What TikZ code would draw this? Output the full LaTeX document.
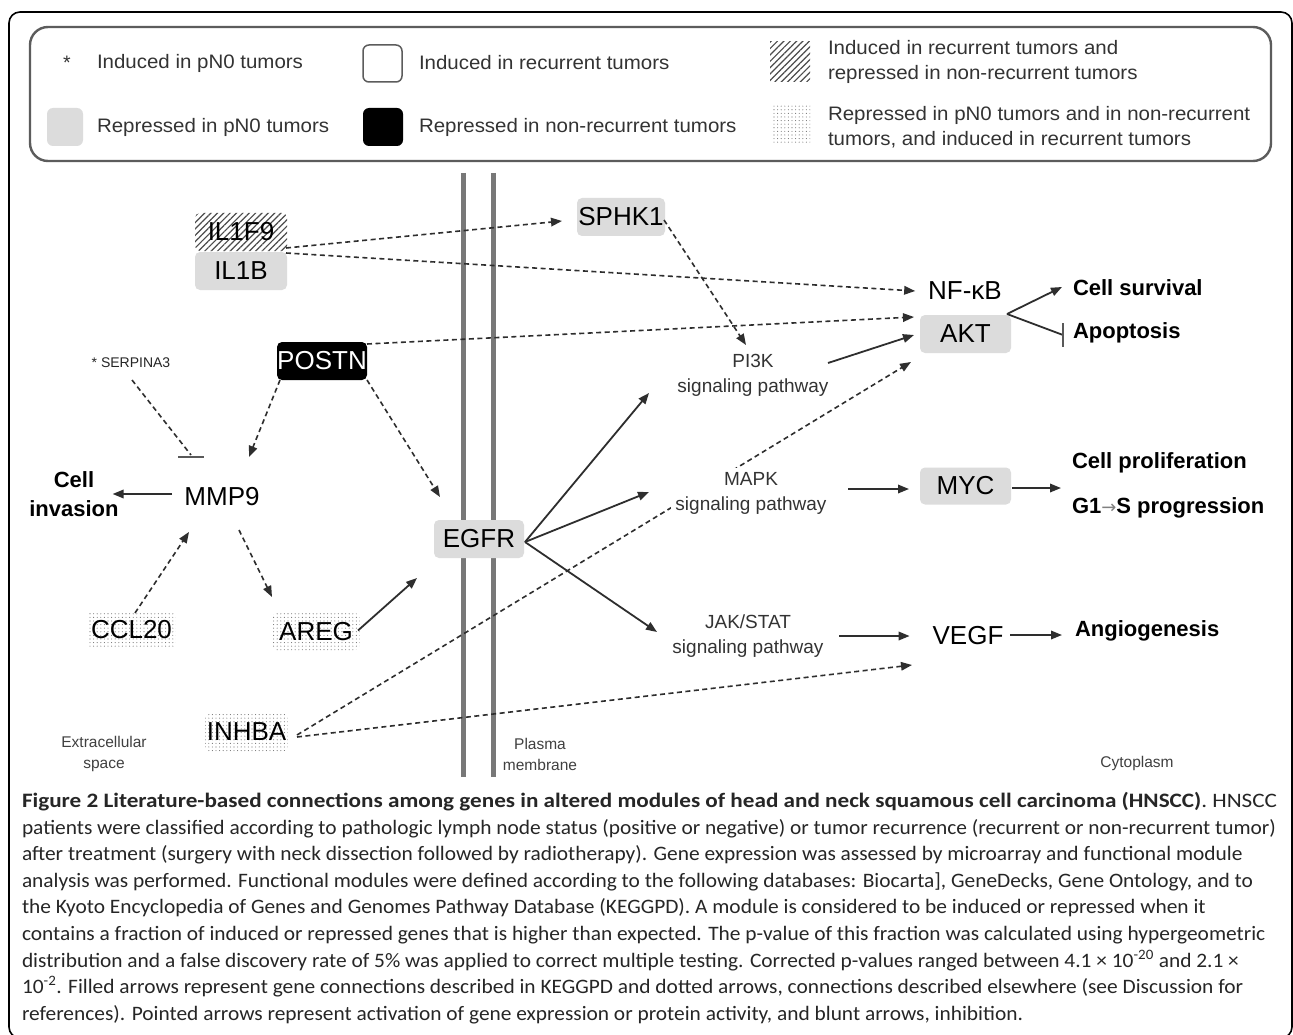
\documentclass[tikz,border=0pt]{standalone}
\usepackage{fontspec}
\setmainfont{Liberation Sans}
\newfontfamily\capfont{Carlito}
\newfontfamily\arrowfont{DejaVu Sans}
\usepackage{graphicx}
\usetikzlibrary{arrows.meta,patterns,patterns.meta,calc}
\definecolor{boxgray}{HTML}{DCDCDC}
\definecolor{linegray}{HTML}{2E2E2E}
\definecolor{memgray}{HTML}{787878}
\definecolor{framegray}{HTML}{5C5C5C}
\definecolor{legtext}{HTML}{333333}
\definecolor{captext}{HTML}{262626}
\newlength\capw
\newlength\legw
\newcommand\capsize{\fontsize{20.5}{26}\selectfont}
\newcommand\legsize{\fontsize{19.5}{25}\selectfont}
\begin{document}
\settowidth\capw{\capfont\capsize patients were classified according to pathologic lymph node status (positive or negative) or tumor recurrence (recurrent or non-recurrent tumor)}
\settowidth\legw{\legsize Induced in pN0 tumors}
\pgfmathsetmacro\capsx{1254/\capw}
\pgfmathsetmacro\legsx{206/\legw}
\newcommand\capline[1]{\scalebox{\capsx}[1]{\capfont\capsize #1}}
\newcommand\legline[1]{\scalebox{\legsx}[1]{\legsize #1}}
\begin{tikzpicture}[x=1pt,y=-1pt,
 every node/.style={inner sep=0pt,outer sep=0pt},
 gfont/.style={font=\fontsize{26}{28}\selectfont},
 gbox/.style={gfont,rounded corners=5pt,minimum height=38pt,text=black},
 grayg/.style={gbox,fill=boxgray},
 blackg/.style={gbox,fill=black,text=white},
 hatchg/.style={gbox,pattern={Lines[angle=45,distance=4.5pt,line width=1.2pt]},pattern color=black!70},
 dotg/.style={gbox,pattern={Dots[distance=3.6pt,radius=0.55pt]},pattern color=black!55},
 gtext/.style={gfont,text=black},
 pathlab/.style={font=\fontsize{19}{25}\selectfont,align=center,text=black!80},
 outlab/.style={font=\bfseries\fontsize{22}{29}\selectfont,align=center,text=black},
 arealab/.style={font=\fontsize{15.5}{21}\selectfont,align=center,text=black!75},
 legtxt/.style={font=\legsize,text=legtext,align=left,anchor=west},
 dasharr/.style={draw=linegray,line width=1.6pt,dash pattern=on 5pt off 3.5pt,-{Triangle[length=11pt,width=8.5pt]}},
 solarr/.style={draw=linegray,line width=1.8pt,-{Triangle[length=11pt,width=8.5pt]}},
 dashline/.style={draw=linegray,line width=1.6pt,dash pattern=on 5pt off 3.5pt},
 solline/.style={draw=linegray,line width=1.8pt},
 blunt/.style={draw=black!65,line width=2.4pt},
 membrane/.style={draw=memgray,line width=5pt},
 capnode/.style={anchor=base west,text=captext},
]
\useasboundingbox (0,0) rectangle (1293,1035);
\fill[white] (0,0) rectangle (1293,1035);
% outer frame
\draw[black,line width=1.6pt,rounded corners=11pt] (9,12) rectangle (1292,1038);
% legend
\draw[framegray,line width=2.4pt,rounded corners=18pt] (30,27) rectangle (1271,161);
\node[font=\legsize,text=legtext] (lstar) at (67,63) {*};
\node[legtxt] (l1) at (97,63) {\legline{Induced in pN0 tumors}};
\node[draw=framegray,line width=1.5pt,fill=white,rounded corners=6pt,minimum width=39pt,minimum height=37pt] (sw2) at (382.5,63.5) {};
\node[legtxt] (l2) at (419,63) {\legline{Induced in recurrent tumors}};
\node[pattern={Lines[angle=45,distance=4.5pt,line width=1.2pt]},pattern color=black!70,minimum width=40pt,minimum height=40pt] (sw3) at (790,62) {};
\node[legtxt] (l3) at (828,62) {\legline{Induced in recurrent tumors and}\\\legline{repressed in non-recurrent tumors}};
\node[fill=boxgray,rounded corners=6pt,minimum width=36pt,minimum height=38pt] (sw4) at (65,127) {};
\node[legtxt] (l4) at (97,127) {\legline{Repressed in pN0 tumors}};
\node[fill=black,rounded corners=6pt,minimum width=40pt,minimum height=38pt] (sw5) at (383,127) {};
\node[legtxt] (l5) at (419,127) {\legline{Repressed in non-recurrent tumors}};
\node[pattern={Dots[distance=3.6pt,radius=0.55pt]},pattern color=black!55,minimum width=37pt,minimum height=40pt] (sw6) at (791.5,125) {};
\node[legtxt] (l6) at (828,127) {\legline{Repressed in pN0 tumors and in non-recurrent}\\\legline{tumors, and induced in recurrent tumors}};
% membrane
\draw[membrane] (463,173) -- (463,777);
\draw[membrane] (493,173) -- (493,777);
% nodes
\node[hatchg,minimum width=92pt] (il1f9) at (241,232) {IL1F9};
\node[grayg,minimum width=92pt] (il1b) at (241,271) {IL1B};
\node[grayg,minimum width=88pt] (sphk1) at (621,217) {SPHK1};
\node[gtext] (nfkb) at (965,291) {NF-κB};
\node[grayg,minimum width=91pt] (akt) at (965.5,334) {AKT};
\node[outlab,anchor=west] (surv) at (1073,288) {Cell survival};
\node[outlab,anchor=west] (apop) at (1073,333) {Apoptosis};
\node[pathlab] (pi3k) at (753,375) {PI3K\\signaling pathway};
\node[blackg,minimum width=90pt] (postn) at (322,361) {POSTN};
\node[font=\fontsize{14}{16}\selectfont,text=black!85] (serp) at (131,363) {* SERPINA3};
\node[gtext] (mmp9) at (222,497) {MMP9};
\node[outlab] (inv) at (74,494) {Cell\\invasion};
\node[grayg,minimum width=90pt] (egfr) at (479,539) {EGFR};
\node[grayg,minimum width=91pt,minimum height=37pt] (myc) at (965.5,486) {MYC};
\node[outlab,anchor=west] (prol) at (1072,463) {Cell proliferation};
\node[outlab,anchor=west] (g1s) at (1072,508) {G1{\arrowfont\mdseries\fontsize{18}{20}\selectfont\color{gray}→}S progression};
\node[dotg,minimum width=89pt,minimum height=36pt] (ccl20) at (131.5,630) {CCL20};
\node[dotg,minimum width=88pt,minimum height=37pt] (areg) at (316,631.5) {AREG};
\node[pathlab] (jak) at (748,636) {JAK/STAT\\signaling pathway};
\node[gtext] (vegf) at (968,636) {VEGF};
\node[outlab,anchor=west] (angio) at (1075,631) {Angiogenesis};
\node[dotg,minimum width=83pt,minimum height=39pt] (inhba) at (246.5,732) {INHBA};
\node[arealab] (extra) at (104,754) {Extracellular\\space};
\node[arealab] (plasma) at (540,754) {Plasma\\membrane};
\node[arealab] (cyto) at (1137,763) {Cytoplasm};
\coordinate (prolpt) at (1061,488);
% INHBA -> AKT passes behind the MAPK label
\draw[dasharr] ($(inhba.east)+(9,3)$) -- ($(akt.south west)+(-9,9)$);
\node[pathlab,fill=white,inner sep=4pt] (mapk) at (751,493) {MAPK\\signaling pathway};
% connectors
\draw[dasharr] ($(il1f9.south east)+(-1,-3)$) -- ($(sphk1.west)+(-15,4)$);
\draw[dasharr] ($(il1b.north east)+(-1,1)$) -- ($(nfkb.west)+(-13,0)$);
\draw[dasharr] ($(postn.north east)+(0,2)$) -- ($(akt.north west)+(-6,2)$);
\draw[dasharr] ($(sphk1.east)+(-1,3)$) -- ($(pi3k.center)+(-7,-30)$);
\draw[solarr] ($(pi3k.center)+(75,-12)$) -- ($(akt.west)+(-6,1)$);
\draw[solarr] ($(egfr.east)+(1,3)$) -- ($(pi3k.center)+(-104,18)$);
\draw[solarr] ($(egfr.east)+(1,3)$) -- ($(mapk.center)+(-102,-1)$);
\draw[solarr] ($(egfr.east)+(1,3)$) -- ($(jak.center)+(-91,-4)$);
\draw[solarr] ($(mapk.center)+(97,-4)$) -- ($(myc.west)+(-11,3)$);
\draw[solarr] ($(myc.east)+(1,2)$) -- (prolpt);
\draw[solarr] ($(jak.center)+(91,0)$) -- ($(vegf.west)+(-23,0)$);
\draw[solarr] ($(vegf.east)+(7,-1)$) -- ($(angio.west)+(-13,4)$);
\draw[dasharr] ($(inhba.east)+(9,5)$) -- ($(vegf.center)+(-56,29)$);
\draw[solarr] ($(areg.east)+(-2,-1)$) -- ($(egfr.south west)+(-17,20)$);
\draw[dasharr] ($(ccl20.north)+(3.5,1)$) -- ($(mmp9.center)+(-33,35)$);
\draw[dasharr] ($(mmp9.center)+(17,33)$) -- ($(areg.north west)+(0,-16)$);
\draw[dasharr] ($(postn.south west)+(3,0)$) -- ($(mmp9.center)+(27,-40)$);
\draw[dasharr] (postn.south east) -- ($(egfr.north west)+(6,-23)$);
\draw[dashline] ($(serp.center)+(1,17)$) -- ($(mmp9.center)+(-31,-42)$);
\draw[blunt] ($(mmp9.center)+(-44,-40)$) -- ($(mmp9.center)+(-18,-40)$);
\draw[solarr] ($(mmp9.center)+(-50,-3)$) -- ($(inv.east)+(-6,0)$);
\draw[solarr] ($(akt.north east)+(-4,-1)$) -- ($(surv.west)+(-11,-1)$);
\draw[solline] ($(akt.north east)+(-4,-1)$) -- ($(apop.west)+(-10,2)$);
\draw[blunt] ($(apop.west)+(-10,-10)$) -- ($(apop.west)+(-10,14)$);
% caption
\node[capnode] (cap1) at (22,807) {\resizebox{1255pt}{\height}{\capfont\capsize\textbf{Figure 2 Literature-based connections among genes in altered modules of head and neck squamous cell carcinoma (HNSCC)}. HNSCC}};
\node[capnode] (cap2) at (22,834) {\capline{patients were classified according to pathologic lymph node status (positive or negative) or tumor recurrence (recurrent or non-recurrent tumor)}};
\node[capnode] (cap3) at (22,860) {\capline{after treatment (surgery with neck dissection followed by radiotherapy). Gene expression was assessed by microarray and functional module}};
\node[capnode] (cap4) at (22,887) {\capline{analysis was performed. Functional modules were defined according to the following databases: Biocarta], GeneDecks, Gene Ontology, and to}};
\node[capnode] (cap5) at (22,913) {\capline{the Kyoto Encyclopedia of Genes and Genomes Pathway Database (KEGGPD). A module is considered to be induced or repressed when it}};
\node[capnode] (cap6) at (22,940) {\capline{contains a fraction of induced or repressed genes that is higher than expected. The p-value of this fraction was calculated using hypergeometric}};
\node[capnode] (cap7) at (22,967) {\capline{distribution and a false discovery rate of 5\% was applied to correct multiple testing. Corrected p-values ranged between 4.1 × 10\textsuperscript{-20} and 2.1 ×}};
\node[capnode] (cap8) at (22,993) {\capline{10\textsuperscript{-2}. Filled arrows represent gene connections described in KEGGPD and dotted arrows, connections described elsewhere (see Discussion for}};
\node[capnode] (cap9) at (22,1020) {\capline{references). Pointed arrows represent activation of gene expression or protein activity, and blunt arrows, inhibition.}};
\end{tikzpicture}
\end{document}
